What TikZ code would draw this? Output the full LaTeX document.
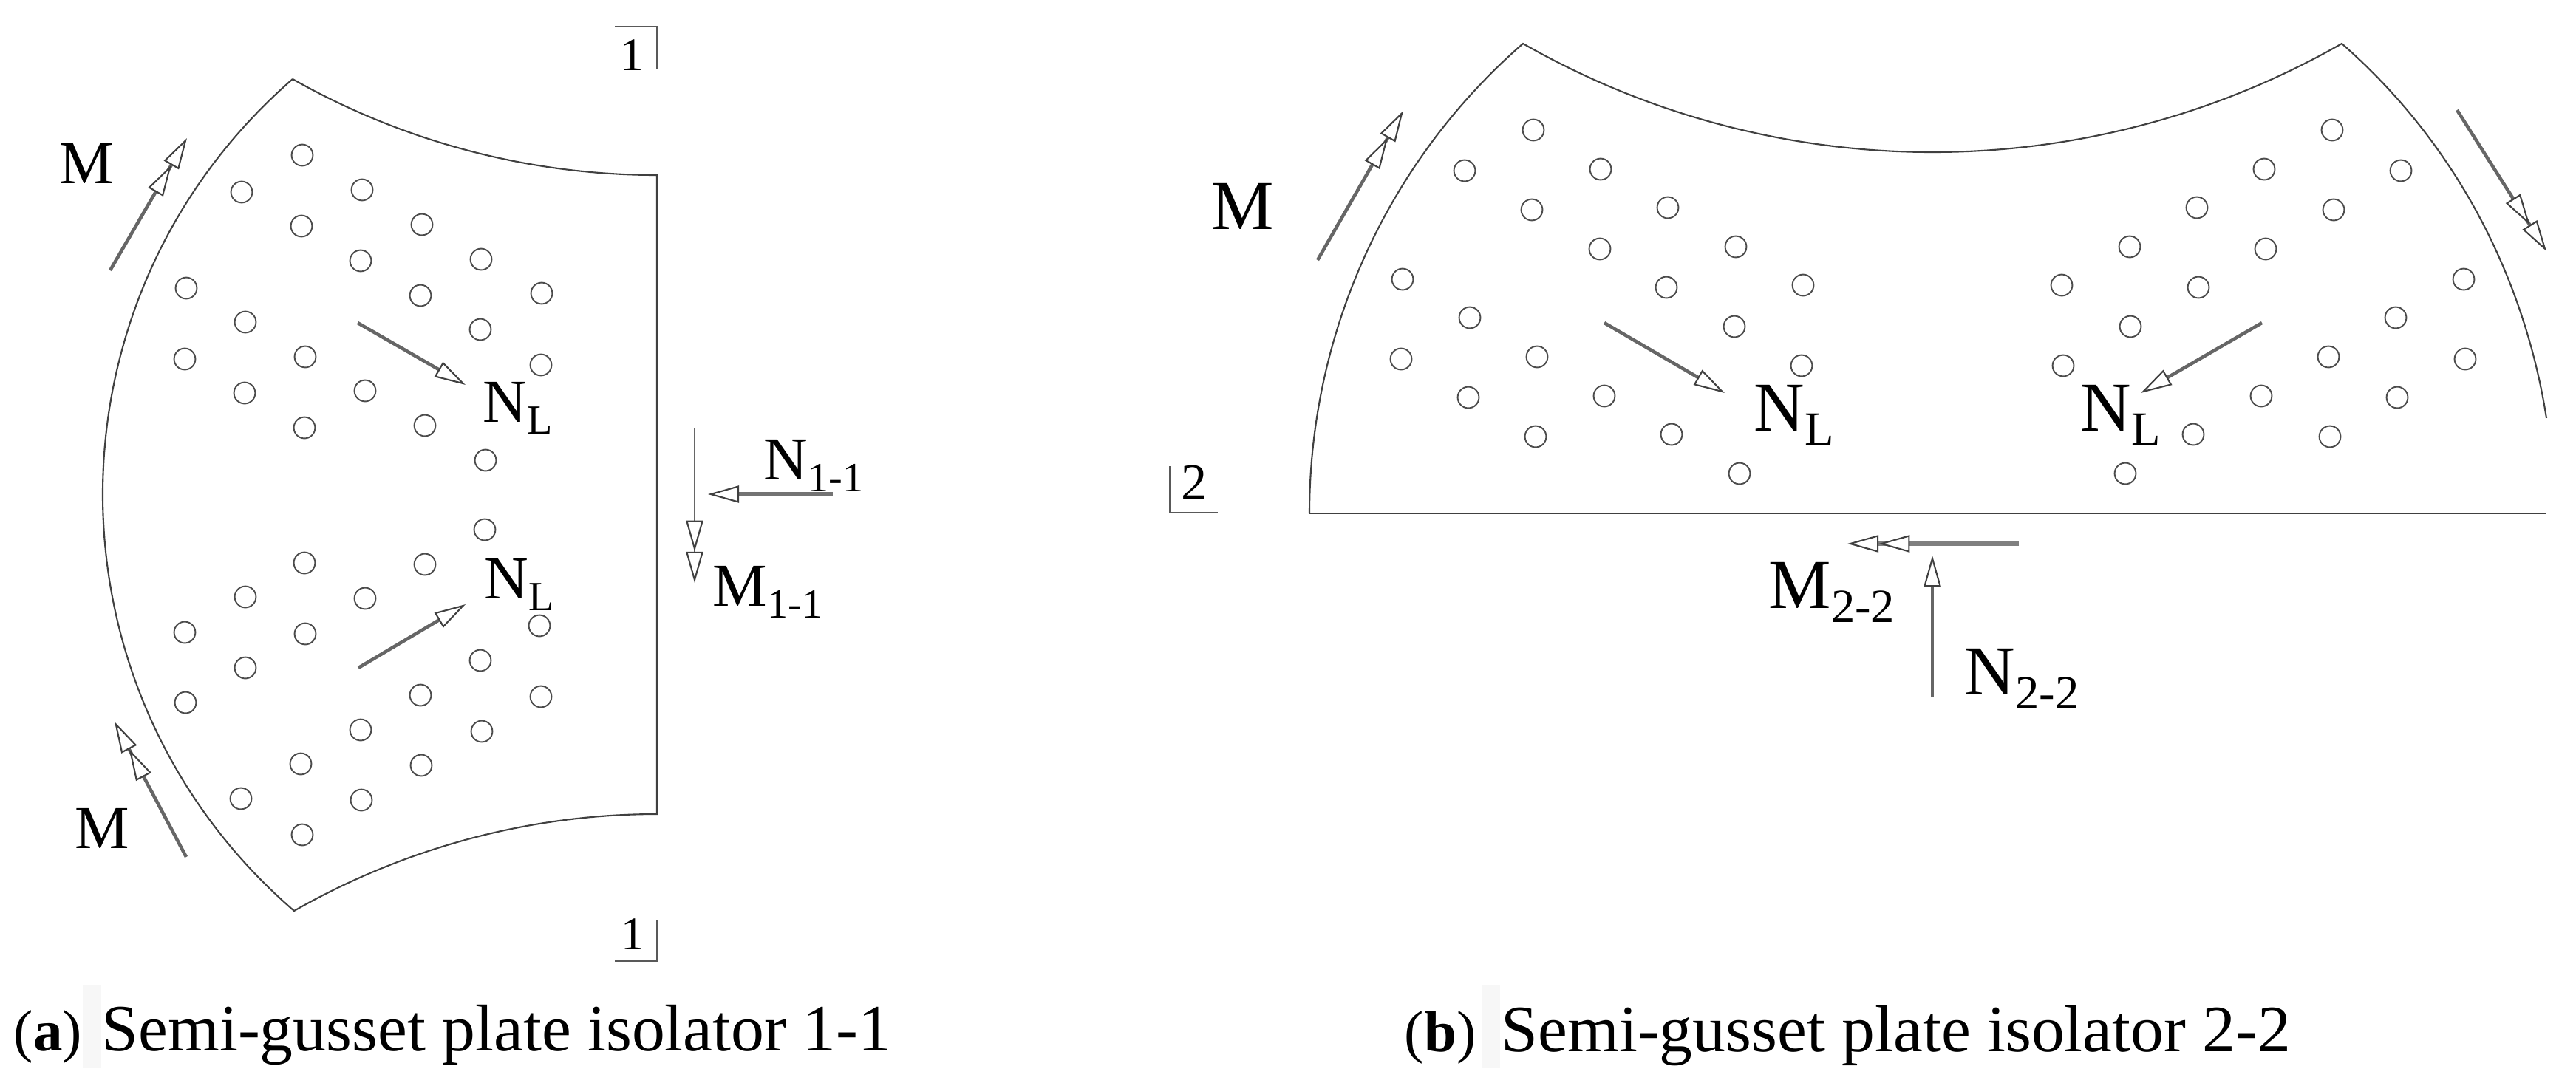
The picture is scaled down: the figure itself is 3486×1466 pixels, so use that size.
\documentclass[tikz,border=0pt]{standalone}
\usepackage{fontspec}
\usepackage{graphicx}
\setmainfont{Liberation Serif}
\usetikzlibrary{arrows.meta, positioning}

\newcommand{\subt}[1]{\raisebox{-.2em}{\scalebox{.68}{#1}}}

\begin{document}
\begin{tikzpicture}[x=0.01cm, y=-0.01cm,
  plate/.style={line width=0.6pt, draw=black!75},
  hole/.style={circle, draw=black!70, line width=0.55pt, minimum size=8.2pt, inner sep=0pt},
  head/.tip={Triangle[length=12pt, width=6.6pt, line width=0.6pt, color=black!75, fill=white]},
  force/.style={line width=1.3pt, draw=black!60, -{head[]}},
  forcetwo/.style={line width=1.3pt, draw=black!60, -{head[]head[]}},
  labsmall/.style={inner sep=0pt, anchor=base west, font=\fontsize{23.5}{26}\selectfont},
  labbig/.style={inner sep=0pt, anchor=base west, font=\fontsize{27}{30}\selectfont},
  captext/.style={inner sep=0pt, anchor=base west, font=\fontsize{25.5}{28}\selectfont},
  cutmark/.style={line width=0.7pt, draw=black!65},
  capshade/.style={fill=black!3, draw=none}]
\useasboundingbox (0, 0) rectangle (3486, 1466);

% plate 1-1
\coordinate (P) at (396, 107);
\coordinate (Q) at (889, 237);
\coordinate (R) at (889, 1102);
\coordinate (S) at (398, 1233);
\draw [plate] (P) .. controls (546, 192) and (716, 237) .. (Q) -- (R)
  .. controls (716, 1102) and (547, 1148) .. (S)
  .. controls (53, 935) and (53, 405) .. (P);

% plate 2-2
\coordinate (T) at (1772, 695);
\coordinate (U) at (2061, 59);
\coordinate (V) at (3169, 59);
\coordinate (W) at (3446, 566);
\coordinate (X) at (3446, 695);
\draw [plate] (T) .. controls (1772, 451) and (1877, 219) .. (U)
  .. controls (2404, 255) and (2826, 255) .. (V)
  .. controls (3319, 190) and (3415, 369) .. (W);
\draw [plate] (T) -- (X);

% holes plate 1-1
\node [hole] (a1) at (409, 210) {};
\node [hole] (a2) at (327, 260) {};
\node [hole] (a3) at (490, 257) {};
\node [hole] (a4) at (408, 306) {};
\node [hole] (a5) at (571, 304) {};
\node [hole] (a6) at (488, 353) {};
\node [hole] (a7) at (651, 351) {};
\node [hole] (a8) at (252, 390) {};
\node [hole] (a9) at (569, 400) {};
\node [hole] (a10) at (733, 397) {};
\node [hole] (a11) at (332, 436) {};
\node [hole] (a12) at (650, 446) {};
\node [hole] (a13) at (250, 486) {};
\node [hole] (a14) at (413, 483) {};
\node [hole] (a15) at (732, 494) {};
\node [hole] (a16) at (331, 532) {};
\node [hole] (a17) at (494, 529) {};
\node [hole] (a18) at (412, 579) {};
\node [hole] (a19) at (575, 576) {};
\node [hole] (a20) at (657, 623) {};
\node [hole] (a21) at (656, 717) {};
\node [hole] (a22) at (412, 762) {};
\node [hole] (a23) at (575, 764) {};
\node [hole] (a24) at (332, 808) {};
\node [hole] (a25) at (494, 810) {};
\node [hole] (a26) at (250, 856) {};
\node [hole] (a27) at (413, 858) {};
\node [hole] (a28) at (730, 847) {};
\node [hole] (a29) at (332, 904) {};
\node [hole] (a30) at (650, 894) {};
\node [hole] (a31) at (251, 951) {};
\node [hole] (a32) at (569, 941) {};
\node [hole] (a33) at (732, 943) {};
\node [hole] (a34) at (488, 988) {};
\node [hole] (a35) at (652, 990) {};
\node [hole] (a36) at (407, 1034) {};
\node [hole] (a37) at (570, 1036) {};
\node [hole] (a38) at (326, 1081) {};
\node [hole] (a39) at (489, 1083) {};
\node [hole] (a40) at (409, 1130) {};

% holes plate 2-2, left group
\node [hole] (b1) at (2075, 176) {};
\node [hole] (b2) at (1982, 231) {};
\node [hole] (b3) at (2166, 229) {};
\node [hole] (b4) at (2073, 284) {};
\node [hole] (b5) at (2257, 281) {};
\node [hole] (b6) at (2165, 337) {};
\node [hole] (b7) at (2349, 334) {};
\node [hole] (b8) at (1898, 378) {};
\node [hole] (b9) at (2255, 389) {};
\node [hole] (b10) at (2440, 386) {};
\node [hole] (b11) at (1989, 430) {};
\node [hole] (b12) at (2347, 442) {};
\node [hole] (b13) at (1896, 486) {};
\node [hole] (b14) at (2080, 483) {};
\node [hole] (b15) at (2438, 495) {};
\node [hole] (b16) at (1987, 538) {};
\node [hole] (b17) at (2171, 536) {};
\node [hole] (b18) at (2078, 591) {};
\node [hole] (b19) at (2262, 588) {};
\node [hole] (b20) at (2354, 641) {};

% holes plate 2-2, right group
\node [hole] (c1) at (3156, 176) {};
\node [hole] (c2) at (3064, 229) {};
\node [hole] (c3) at (3249, 231) {};
\node [hole] (c4) at (2973, 281) {};
\node [hole] (c5) at (3158, 284) {};
\node [hole] (c6) at (2882, 334) {};
\node [hole] (c7) at (3066, 337) {};
\node [hole] (c8) at (3334, 378) {};
\node [hole] (c9) at (2790, 386) {};
\node [hole] (c10) at (2975, 389) {};
\node [hole] (c11) at (3242, 430) {};
\node [hole] (c12) at (2883, 442) {};
\node [hole] (c13) at (3336, 486) {};
\node [hole] (c14) at (3151, 483) {};
\node [hole] (c15) at (2792, 495) {};
\node [hole] (c16) at (3244, 538) {};
\node [hole] (c17) at (3060, 536) {};
\node [hole] (c18) at (2968, 588) {};
\node [hole] (c19) at (3153, 591) {};
\node [hole] (c20) at (2876, 641) {};

% labels
\node [labsmall] (M1) at (80, 248) {M};
\node [labsmall] (M2) at (101, 1148) {M};
\node [labsmall] (NL1) at (653, 571) {N\subt{L}};
\node [labsmall] (NL2) at (655, 810) {N\subt{L}};
\node [labsmall] (N11) at (1033, 649) {N\subt{1-1}};
\node [labsmall] (M11) at (964, 820) {M\subt{1-1}};
\node [labbig] (M3) at (1639, 310) {M};
\node [labbig] (NL3) at (2373, 583) {N\subt{L}};
\node [labbig] (NL4) at (2815, 583) {N\subt{L}};
\node [labbig] (M22) at (2393, 823) {M\subt{2-2}};
\node [labbig] (N22) at (2658, 940) {N\subt{2-2}};

% arrow ends
\coordinate (M1a) at (149, 366);
\coordinate (M1b) at (253, 187);
\coordinate (M2a) at (252, 1160);
\coordinate (M2b) at (155, 977);
\coordinate (NL1a) at (484, 437);
\coordinate (NL1b) at (630, 521);
\coordinate (NL2a) at (485, 904);
\coordinate (NL2b) at (630, 818);
\coordinate (N11a) at (1127, 669);
\coordinate (N11b) at (958, 669);
\coordinate (M11a) at (940, 580);
\coordinate (M11b) at (940, 789);
\coordinate (M3a) at (1783, 352);
\coordinate (M3b) at (1899, 150);
\coordinate (M4a) at (3325, 149);
\coordinate (M4b) at (3446, 340);
\coordinate (NL3a) at (2171, 437);
\coordinate (NL3b) at (2334, 532);
\coordinate (NL4a) at (3061, 437);
\coordinate (NL4b) at (2897, 532);
\coordinate (M22a) at (2732, 736);
\coordinate (M22b) at (2500, 736);
\coordinate (N22a) at (2615, 944);
\coordinate (N22b) at (2615, 752);

% arrows
\draw [forcetwo] (M1a) -- (M1b);
\draw [forcetwo] (M2a) -- (M2b);
\draw [force] (NL1a) -- (NL1b);
\draw [force] (NL2a) -- (NL2b);
\draw [force, line width=1.8pt, draw=black!55] (N11a) -- (N11b);
\draw [forcetwo, line width=0.8pt] (M11a) -- (M11b);
\draw [forcetwo] (M3a) -- (M3b);
\draw [forcetwo] (M4a) -- (M4b);
\draw [force] (NL3a) -- (NL3b);
\draw [force] (NL4a) -- (NL4b);
\draw [forcetwo, line width=1.9pt, draw=black!50] (M22a) -- (M22b);
\draw [force, line width=0.9pt] (N22a) -- (N22b);

% cut marks
\coordinate (K1) at (832, 36);
\coordinate (K2) at (889, 36);
\coordinate (K3) at (889, 94);
\coordinate (K4) at (889, 1246);
\coordinate (K5) at (889, 1301);
\coordinate (K6) at (832, 1301);
\coordinate (K7) at (1583, 631);
\coordinate (K8) at (1583, 694);
\coordinate (K9) at (1648, 694);
\draw [cutmark] (K1) -- (K2) -- (K3);
\draw [cutmark] (K4) -- (K5) -- (K6);
\draw [cutmark] (K7) -- (K8) -- (K9);
\node [inner sep=0pt, font=\fontsize{18}{20}\selectfont] (cut1) at (855, 75) {1};
\node [inner sep=0pt, font=\fontsize{18}{20}\selectfont] (cut1b) at (856, 1265) {1};
\node [inner sep=0pt, font=\fontsize{20}{22}\selectfont] (cut2) at (1616, 653) {2};

% captions
\fill [capshade] (112, 1333) rectangle (137, 1446);
\fill [capshade] (2005, 1333) rectangle (2030, 1446);
\node [captext, font=\fontsize{22.5}{28}\selectfont] (capa) at (18, 1422) {(\textbf{a})};
\node [captext] (capatext) at (137, 1422) {Semi-gusset plate isolator 1-1};
\node [captext, font=\fontsize{22.5}{28}\selectfont] (capb) at (1900, 1423) {(\textbf{b})};
\node [captext] (capbtext) at (2031, 1423) {Semi-gusset plate isolator 2-2};
\end{tikzpicture}
\end{document}
